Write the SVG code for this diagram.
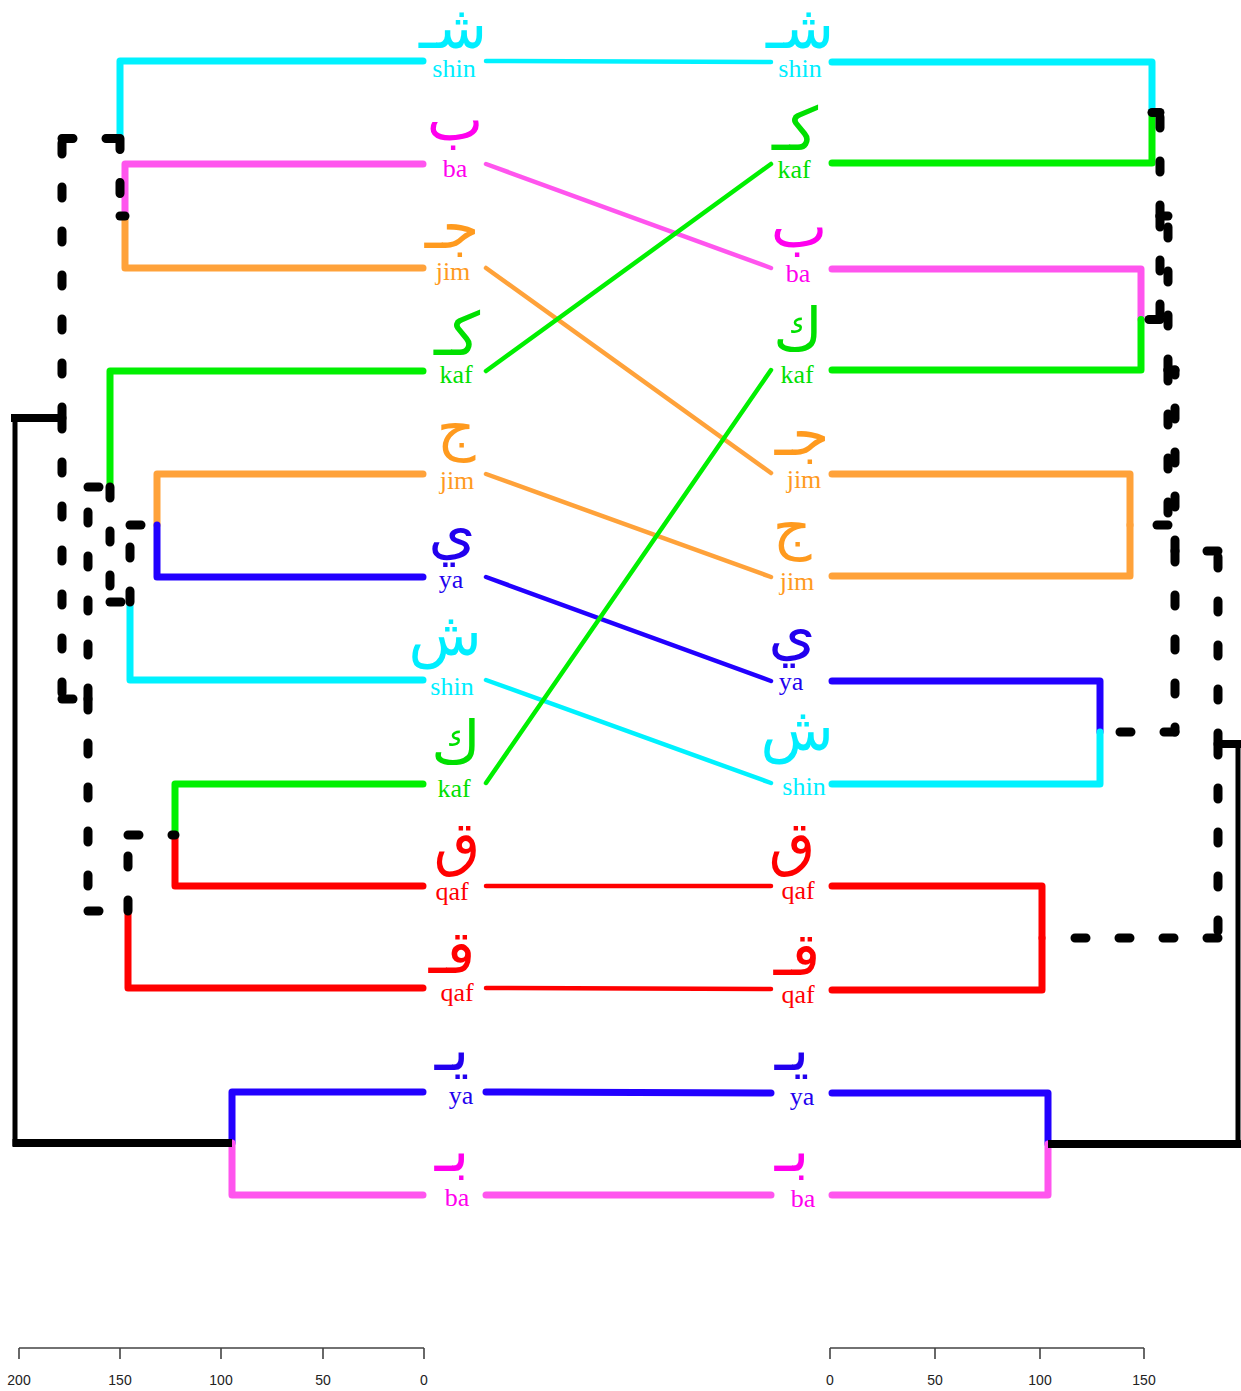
<svg xmlns="http://www.w3.org/2000/svg" width="1241" height="1391" viewBox="0 0 1241 1391">
<style>
.br{fill:none;stroke-width:7;stroke-linecap:round;stroke-linejoin:round}
.cn{fill:none;stroke-width:4.5;stroke-linecap:round}
.cnw{fill:none;stroke-width:7;stroke-linecap:round}
.dash{fill:none;stroke:#000;stroke-width:9;stroke-linecap:round;stroke-dasharray:11 33}
.rootv{fill:none;stroke:#000;stroke-width:5}
.rooth{fill:none;stroke:#000;stroke-width:8}
.cyan{stroke:#00F2FF}.pink{stroke:#FF55EE}.orange{stroke:#FFA23A}.green{stroke:#00F000}.blue{stroke:#2200FF}.red{stroke:#FF0000}
.ar{font-family:"DejaVu Sans","Noto Sans",sans-serif;font-size:60px;text-anchor:middle}
.la{font-family:"Liberation Serif","DejaVu Serif",serif;font-size:26px;text-anchor:middle}
.tc{fill:#00EEFF}.tp{fill:#FF00EE}.to{fill:#FF9A1E}.tg{fill:#00E000}.tb{fill:#2200EE}.tr{fill:#FF0000}
.ax{fill:none;stroke:#444;stroke-width:1.6}
.axt{font-family:"Liberation Sans",Arial,sans-serif;font-size:14px;fill:#222;text-anchor:middle}
</style>

<g id="connectors">
  <g id="left-tree">
    <path class="br cyan" d="M120,138.5 V61 H423"/>
    <path class="br pink" d="M125,216 V164 H423"/>
    <path class="br orange" d="M125,216 V268 H423"/>
    <path class="br green" d="M110,487 V371 H423"/>
    <path class="br orange" d="M157,525 V474 H423"/>
    <path class="br blue" d="M157,525 V577 H423"/>
    <path class="br cyan" d="M130,604 V680 H423"/>
    <path class="br green" d="M175,835 V784 H423"/>
    <path class="br red" d="M175,835 V886 H423"/>
    <path class="br red" d="M128,913 V988 H423"/>
    <path class="br blue" d="M232,1143 V1092 H423"/>
    <path class="br pink" d="M232,1143 V1195 H423"/>
    <path class="dash" d="M120,138.5 V216"/><path class="dash" d="M120,216 H125"/>
    <path class="dash" d="M62,418 V138.5"/><path class="dash" d="M62,138.5 H120"/>
    <path class="dash" d="M62,418 V699"/><path class="dash" d="M62,699 H88"/>
    <path class="dash" d="M88,699 V487"/><path class="dash" d="M88,487 H110"/>
    <path class="dash" d="M88,699 V911"/><path class="dash" d="M88,911 H128"/>
    <path class="dash" d="M110,487 V602"/><path class="dash" d="M110,602 H130"/>
    <path class="dash" d="M130,602 V525"/><path class="dash" d="M130,525 H157"/>
    <path class="dash" d="M128,911 V835"/><path class="dash" d="M128,835 H175"/>
    <path class="rootv" d="M15,780 V414"/><path class="rooth" d="M11,418 H64"/>
    <path class="rootv" d="M15,780 V1146"/><path class="rooth" d="M12.5,1143 H232"/>
  </g>
  <g id="right-tree">
    <path class="br cyan" d="M1152,112.5 V62 H832"/>
    <path class="br green" d="M1152,112.5 V163 H832"/>
    <path class="br pink" d="M1141,319.5 V269 H832"/>
    <path class="br green" d="M1141,319.5 V370 H832"/>
    <path class="br orange" d="M1130,525 V474 H832"/>
    <path class="br orange" d="M1130,525 V576 H832"/>
    <path class="br blue" d="M1100,732 V681 H832"/>
    <path class="br cyan" d="M1100,732 V784 H832"/>
    <path class="br red" d="M1042,938 V886 H832"/>
    <path class="br red" d="M1042,938 V990 H832"/>
    <path class="br blue" d="M1048,1144 V1093 H832"/>
    <path class="br pink" d="M1048,1144 V1195 H832"/>
    <path class="dash" d="M1160,216 V112.5"/><path class="dash" d="M1160,112.5 H1152"/>
    <path class="dash" d="M1160,216 V319.5"/><path class="dash" d="M1160,319.5 H1141"/>
    <path class="dash" d="M1168,370 V216"/><path class="dash" d="M1168,216 H1160"/>
    <path class="dash" d="M1168,370 V525"/><path class="dash" d="M1168,525 H1130"/>
    <path class="dash" d="M1175,551 V370"/><path class="dash" d="M1175,370 H1168"/>
    <path class="dash" d="M1175,551 V732"/><path class="dash" d="M1175,732 H1100"/>
    <path class="dash" d="M1218,744 V551"/><path class="dash" d="M1218,551 H1175"/>
    <path class="dash" d="M1218,744 V938"/><path class="dash" d="M1218,938 H1042"/>
    <path class="rootv" d="M1238,944 V740"/><path class="rooth" d="M1242,744 H1216"/>
    <path class="rootv" d="M1238,944 V1148"/><path class="rooth" d="M1242,1144 H1048"/>
  </g>
  <g id="tangle-lines">
    <path class="cn cyan" d="M486,61 L771,62"/>
    <path class="cn pink" d="M486,164 L771,268"/>
    <path class="cn orange" d="M486,268 L771,473"/>
    <path class="cn green" d="M486,371 L771,164"/>
    <path class="cn orange" d="M486,474 L771,577"/>
    <path class="cn blue" d="M486,577 L771,681"/>
    <path class="cn cyan" d="M486,680 L771,783"/>
    <path class="cn green" d="M486,783 L771,370"/>
    <path class="cn red" d="M486,886 L771,886"/>
    <path class="cn red" d="M486,988 L771,989"/>
    <path class="cnw blue" d="M486,1092 L771,1093"/>
    <path class="cnw pink" d="M486,1195 L771,1195"/>
  </g>
</g>

<g id="left-labels">
  <g id="l1"><text class="ar tc" x="453" y="48">شـ</text><text class="la tc" x="454" y="77">shin</text></g>
  <g id="l2"><text class="ar tp" x="455" y="140">ب</text><text class="la tp" x="455" y="177">ba</text></g>
  <g id="l3"><text class="ar to" x="452" y="248">جـ</text><text class="la to" x="453" y="280">jim</text></g>
  <g id="l4"><text class="ar tg" x="457" y="355">كـ</text><text class="la tg" x="456" y="383">kaf</text></g>
  <g id="l5"><text class="ar to" x="456" y="448">ج</text><text class="la to" x="457" y="489">jim</text></g>
  <g id="l6"><text class="ar tb" x="452" y="552">ي</text><text class="la tb" x="451" y="588">ya</text></g>
  <g id="l7"><text class="ar tc" x="445" y="655">ش</text><text class="la tc" x="452" y="695">shin</text></g>
  <g id="l8"><text class="ar tg" x="456" y="764">ك</text><text class="la tg" x="454" y="797">kaf</text></g>
  <g id="l9"><text class="ar tr" x="457" y="864">ق</text><text class="la tr" x="452" y="900">qaf</text></g>
  <g id="l10"><text class="ar tr" x="452" y="973">قـ</text><text class="la tr" x="457" y="1001">qaf</text></g>
  <g id="l11"><text class="ar tb" x="452" y="1070">يـ</text><text class="la tb" x="461" y="1104">ya</text></g>
  <g id="l12"><text class="ar tp" x="452" y="1171">بـ</text><text class="la tp" x="457" y="1206">ba</text></g>
</g>

<g id="right-labels">
  <g id="r1"><text class="ar tc" x="800" y="48">شـ</text><text class="la tc" x="800" y="77">shin</text></g>
  <g id="r2"><text class="ar tg" x="795" y="150">كـ</text><text class="la tg" x="794" y="178">kaf</text></g>
  <g id="r3"><text class="ar tp" x="799" y="247">ب</text><text class="la tp" x="798" y="282">ba</text></g>
  <g id="r4"><text class="ar tg" x="798" y="351">ك</text><text class="la tg" x="797" y="383">kaf</text></g>
  <g id="r5"><text class="ar to" x="802" y="455">جـ</text><text class="la to" x="804" y="488">jim</text></g>
  <g id="r6"><text class="ar to" x="792" y="547">ج</text><text class="la to" x="797" y="590">jim</text></g>
  <g id="r7"><text class="ar tb" x="792" y="653">ي</text><text class="la tb" x="791" y="690">ya</text></g>
  <g id="r8"><text class="ar tc" x="797" y="750">ش</text><text class="la tc" x="804" y="795">shin</text></g>
  <g id="r9"><text class="ar tr" x="792" y="864">ق</text><text class="la tr" x="798" y="899">qaf</text></g>
  <g id="r10"><text class="ar tr" x="797" y="975">قـ</text><text class="la tr" x="798" y="1003">qaf</text></g>
  <g id="r11"><text class="ar tb" x="792" y="1070">يـ</text><text class="la tb" x="802" y="1105">ya</text></g>
  <g id="r12"><text class="ar tp" x="792" y="1171">بـ</text><text class="la tp" x="803" y="1207">ba</text></g>
</g>

<g id="axes">
  <path class="ax" d="M19,1348 H424 M19,1348 V1359 M120,1348 V1359 M221,1348 V1359 M323,1348 V1359 M424,1348 V1359"/>
  <text class="axt" x="19" y="1385">200</text><text class="axt" x="120" y="1385">150</text><text class="axt" x="221" y="1385">100</text><text class="axt" x="323" y="1385">50</text><text class="axt" x="424" y="1385">0</text>
  <path class="ax" d="M830,1348 H1144 M830,1348 V1359 M935,1348 V1359 M1040,1348 V1359 M1144,1348 V1359"/>
  <text class="axt" x="830" y="1385">0</text><text class="axt" x="935" y="1385">50</text><text class="axt" x="1040" y="1385">100</text><text class="axt" x="1144" y="1385">150</text>
</g>
</svg>
